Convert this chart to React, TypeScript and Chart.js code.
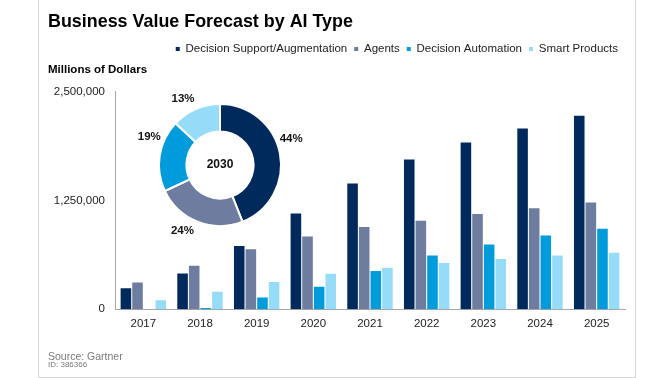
import React, { useEffect, useRef } from 'react';
import { Chart, registerables } from 'chart.js';

Chart.register(...registerables);

const years = ['2017', '2018', '2019', '2020', '2021', '2022', '2023', '2024', '2025'];
const decisionSupport = [242000, 411000, 727000, 1101000, 1446000, 1721000, 1916000, 2078000, 2225000];
const agents = [308000, 499000, 690000, 837000, 944000, 1016000, 1094000, 1160000, 1226000];
const decisionAutomation = [0, 15000, 135000, 257000, 440000, 617000, 745000, 848000, 925000];
const smartProducts = [102000, 202000, 312000, 407000, 477000, 532000, 576000, 617000, 650000];
const yTicks = [0, 1250000, 2500000];

const seriesNames = ['Decision Support/Augmentation', 'Agents', 'Decision Automation', 'Smart Products'];
const mixYear = '2030';
const mix2030 = [44, 24, 19, 13];

const COLORS = ['#002A5C', '#6E7D9F', '#009BDA', '#96DCF8'];
const FONT = '"Liberation Sans", Arial, Helvetica, sans-serif';
// small angular nudges (radians) for the donut percentage labels
const LABEL_NUDGE = [-0.17, 0.14, 0.22, -0.1];

const donutLabels = {
  id: 'donutLabels',
  afterDraw(chart: any) {
    const ctx = chart.ctx;
    const meta = chart.getDatasetMeta(0);
    ctx.save();
    ctx.fillStyle = '#111';
    ctx.textAlign = 'center';
    ctx.textBaseline = 'middle';
    ctx.font = `bold 11.5px ${FONT}`;
    meta.data.forEach((arc: any, i: number) => {
      const p = arc.getProps(['x', 'y', 'startAngle', 'endAngle', 'outerRadius'], true);
      const mid = (p.startAngle + p.endAngle) / 2 + (LABEL_NUDGE[i] || 0);
      const r = p.outerRadius + 15;
      ctx.fillText(mix2030[i] + '%', p.x + Math.cos(mid) * r, p.y + Math.sin(mid) * r);
    });
    const c = meta.data[0];
    ctx.font = `bold 12px ${FONT}`;
    ctx.fillText(mixYear, c.x, c.y);
    ctx.restore();
  },
};

export default function App() {
  const barRef = useRef<HTMLCanvasElement>(null);
  const donutRef = useRef<HTMLCanvasElement>(null);

  useEffect(() => {
    const seriesData = [decisionSupport, agents, decisionAutomation, smartProducts];
    const bar = new Chart(barRef.current as HTMLCanvasElement, {
      type: 'bar',
      data: {
        labels: years,
        datasets: seriesData.map((d, i) => ({
          label: seriesNames[i],
          data: d,
          backgroundColor: COLORS[i],
          borderWidth: 0,
          categoryPercentage: 0.82,
          barPercentage: 0.91,
        })),
      },
      options: {
        animation: false,
        responsive: false,
        maintainAspectRatio: false,
        layout: { padding: { left: 48, right: 47, top: 0, bottom: 39 } },
        plugins: {
          tooltip: { enabled: false },
          title: {
            display: true,
            text: 'Business Value Forecast by AI Type',
            align: 'start',
            color: '#000',
            font: { family: FONT, size: 17.9, weight: 'bold', lineHeight: 1.2 },
            padding: { top: 11.5, bottom: 3.3 },
          },
          legend: {
            display: true,
            position: 'top',
            align: 'end',
            labels: {
              boxWidth: 4,
              boxHeight: 4,
              padding: 7,
              color: '#222',
              font: { family: FONT, size: 11.5 },
            },
          },
          subtitle: {
            display: true,
            text: 'Millions of Dollars',
            align: 'start',
            color: '#000',
            weight: 500,
            font: { family: FONT, size: 11.5, weight: 'bold', lineHeight: 1 },
            padding: { top: -1, bottom: 16.5 },
          } as any,
        },
        scales: {
          x: {
            grid: { display: false, drawTicks: false },
            border: { display: true, color: '#a6a6a6', width: 1 },
            ticks: { color: '#222', font: { family: FONT, size: 11.5 }, padding: 8 },
          },
          y: {
            min: 0,
            max: 2500000,
            grid: { display: false, drawTicks: false },
            border: { display: true, color: '#a6a6a6', width: 1 },
            afterBuildTicks: (scale: any) => {
              scale.ticks = yTicks.map((v) => ({ value: v }));
            },
            afterFit: (scale: any) => {
              scale.width = 67;
            },
            ticks: {
              color: '#222',
              font: { family: FONT, size: 11.5 },
              padding: 10,
              callback: (v: any) => Number(v).toLocaleString('en-US'),
            },
          },
        },
      } as any,
    });

    const donut = new Chart(donutRef.current as HTMLCanvasElement, {
      type: 'doughnut',
      data: {
        labels: seriesNames,
        datasets: [
          {
            data: mix2030,
            backgroundColor: COLORS,
            borderColor: '#ffffff',
            borderWidth: 2,
          },
        ],
      },
      options: {
        animation: false,
        responsive: false,
        maintainAspectRatio: false,
        radius: 61,
        cutout: '55%',
        layout: { padding: 0 },
        plugins: { legend: { display: false }, tooltip: { enabled: false } },
      } as any,
      plugins: [donutLabels],
    });

    return () => {
      bar.destroy();
      donut.destroy();
    };
  }, []);

  return (
    <div style={{ position: 'absolute', left: 0, top: 0, width: 672, height: 378, background: '#fff', overflow: 'hidden', fontFamily: FONT }}>
      <div
        style={{
          position: 'absolute',
          left: 38,
          top: -1,
          width: 598,
          height: 379,
          boxSizing: 'border-box',
          border: '1px solid #d6d6d6',
        }}
      />
      <canvas ref={barRef} width={672} height={378} style={{ position: 'absolute', left: 0, top: 0, width: 672, height: 378 }} />
      <canvas ref={donutRef} width={200} height={200} style={{ position: 'absolute', left: 120, top: 65, width: 200, height: 200 }} />
      <div style={{ position: 'absolute', left: 48, top: 349.5, fontSize: 10.5, lineHeight: '12px', color: '#7a7a7a', whiteSpace: 'nowrap' }}>
        Source: Gartner
      </div>
      <div style={{ position: 'absolute', left: 48, top: 359.5, fontSize: 8, lineHeight: '9px', color: '#7a7a7a', whiteSpace: 'nowrap' }}>
        ID: 386366
      </div>
    </div>
  );
}
